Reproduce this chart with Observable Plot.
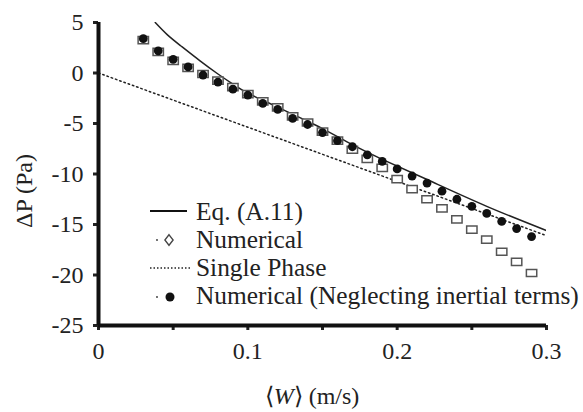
<!DOCTYPE html>
<html>
<head>
<meta charset="utf-8">
<script src="https://cdn.jsdelivr.net/npm/d3@7"></script>
<script src="https://cdn.jsdelivr.net/npm/@observablehq/plot@0.6"></script>
<style>
  html, body { margin: 0; padding: 0; background: #fff; }
  #chart { position: relative; width: 583px; height: 412px; }
</style>
</head>
<body>
<div id="chart"></div>
<script>
// ---- data ----
const velocities = [0.03,0.04,0.05,0.06,0.07,0.08,0.09,0.10,0.11,0.12,0.13,0.14,0.15,0.16,0.17,0.18,0.19,0.20,0.21,0.22,0.23,0.24,0.25,0.26,0.27,0.28,0.29];
const numerical = [3.25,2.1,1.2,0.5,-0.1,-0.75,-1.4,-2.1,-2.8,-3.4,-4.3,-4.9,-5.8,-6.7,-7.6,-8.5,-9.4,-10.5,-11.5,-12.5,-13.4,-14.5,-15.5,-16.5,-17.7,-18.7,-19.8];
const numericalNoInertia = [3.4,2.2,1.35,0.6,-0.2,-0.9,-1.6,-2.2,-3.0,-3.6,-4.5,-5.1,-5.9,-6.7,-7.3,-8.1,-8.75,-9.5,-10.2,-10.9,-11.7,-12.5,-13.2,-13.9,-14.7,-15.4,-16.2];
const eqX = [0.038,0.046,0.055,0.068,0.08,0.09,0.10,0.113,0.133,0.15,0.17,0.19,0.22,0.26,0.30];
const eqY = [5.0,3.8,2.7,1.2,-0.1,-1.1,-2.0,-2.9,-4.3,-5.5,-7.1,-8.55,-10.55,-13.2,-15.6];
const singleX = [0, 0.3];
const singleY = [0, -16.1];
const xTicks = [0,0.05,0.1,0.15,0.2,0.25,0.3];
const yTicks = [-25,-20,-15,-10,-5,0,5];
const legendLabels = ["Eq. (A.11)", "Numerical", "Single Phase", "Numerical (Neglecting inertial terms)"];

const numTable = velocities.map((x, i) => ({x, y: numerical[i]}));
const noInTable = velocities.map((x, i) => ({x, y: numericalNoInertia[i]}));
const eqTable = eqX.map((x, i) => ({x, y: eqY[i]}));
const singleTable = singleX.map((x, i) => ({x, y: singleY[i]}));

const FONT = "'Liberation Serif', 'Times New Roman', serif";

// wide open rectangle symbol
const rectSymbol = {
  draw(ctx, size) {
    const r = Math.sqrt(size / Math.PI);
    const w = r * 1.15, h = r * 0.8;
    ctx.moveTo(-w, -h); ctx.lineTo(w, -h); ctx.lineTo(w, h); ctx.lineTo(-w, h); ctx.closePath();
  }
};

const plot = Plot.plot({
  width: 583,
  height: 412,
  marginLeft: 98,
  marginRight: 37,
  marginTop: 22,
  marginBottom: 87,
  x: {domain: [0, 0.3]},
  y: {domain: [-25, 5]},
  style: {fontFamily: FONT, fontSize: "24px", color: "#222", background: "#fff"},
  marks: [
    Plot.line(singleTable, {x: "x", y: "y", stroke: "#222", strokeWidth: 1.5, strokeDasharray: "1.5 3"}),
    Plot.line(eqTable, {x: "x", y: "y", stroke: "#222", strokeWidth: 1.5, curve: "natural", clip: true}),
    Plot.dot(numTable, {x: "x", y: "y", r: 4.5, symbol: rectSymbol, stroke: "#555", strokeWidth: 1.5, fill: "#fff"}),
    Plot.dot(noInTable, {x: "x", y: "y", r: 4.4, fill: "#111", stroke: "none"}),
    Plot.axisY({ticks: yTicks, tickSize: 5, tickPadding: 10, strokeWidth: 3, tickFormat: d => String(d), label: null, fill: "#222"}),
    Plot.axisX({ticks: xTicks, tickSize: 5, tickPadding: 11, strokeWidth: 3, label: null, fill: "#222",
      tickFormat: d => (Math.round(d * 100) % 10 === 0 ? (d === 0 ? "0" : d.toFixed(1)) : "")}),
    Plot.ruleX([0], {y1: -25, y2: 5, strokeWidth: 4, stroke: "#111"}),
    Plot.ruleY([-25], {x1: 0, x2: 0.3, strokeWidth: 4, stroke: "#111"})
  ]
});

document.getElementById("chart").appendChild(plot);

// ---- legend and axis titles ----
const svg = d3.select(plot);
const g = svg.append("g").attr("font-family", FONT).attr("font-size", 25.4).attr("fill", "#222")
  .attr("text-anchor", "start");
const rowY = [211, 239, 267, 295];
const textX = 196;
legendLabels.forEach((t, i) => {
  g.append("text").attr("x", textX).attr("y", rowY[i]).attr("dy", "0.35em").attr("text-anchor", "start").text(t);
});
// row 1: solid line
g.append("line").attr("x1", 150).attr("x2", 187).attr("y1", rowY[0]).attr("y2", rowY[0])
  .attr("stroke", "#111").attr("stroke-width", 2);
// row 2: small dot + diamond
g.append("circle").attr("cx", 157).attr("cy", rowY[1] + 1).attr("r", 0.9).attr("fill", "#333");
g.append("path").attr("d", d3.symbol(d3.symbolDiamond, 40)()).attr("transform", `translate(169,${rowY[1] + 1}) scale(1.2,0.9)`)
  .attr("fill", "#fff").attr("stroke", "#444").attr("stroke-width", 1.3);
// row 3: dotted line
g.append("line").attr("x1", 150).attr("x2", 190).attr("y1", rowY[2] + 1).attr("y2", rowY[2] + 1)
  .attr("stroke", "#222").attr("stroke-width", 1.3).attr("stroke-dasharray", "1.5 2");
// row 4: small dot + filled circle
g.append("circle").attr("cx", 157).attr("cy", rowY[3] + 2).attr("r", 0.9).attr("fill", "#333");
g.append("circle").attr("cx", 170).attr("cy", rowY[3] + 2).attr("r", 4.5).attr("fill", "#111");

// y axis title (rotated)
g.append("text").attr("transform", "translate(24,191) rotate(-90)").attr("text-anchor", "middle")
  .attr("font-size", 24).attr("dy", "0.35em").text("ΔP (Pa)");
// x axis title
const xt = g.append("text").attr("x", 312).attr("y", 396).attr("text-anchor", "middle")
  .attr("font-size", 24).attr("dy", "0.35em");
xt.append("tspan").text("⟨");
xt.append("tspan").attr("font-style", "italic").text("W");
xt.append("tspan").text("⟩ (m/s)");
</script>
</body>
</html>
